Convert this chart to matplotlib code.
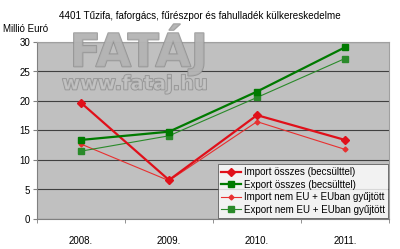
import numpy as np
import matplotlib; matplotlib.use('Agg'); import matplotlib.pyplot as plt
import matplotlib.patheffects as pe

years = ['2008.', '2009.', '2010.', '2011.']
import_total = [19.7, 6.6, 17.6, 13.4]
export_total = [13.4, 14.8, 21.6, 29.1]
import_noneu = [12.7, 6.5, 16.5, 11.8]
export_noneu = [11.5, 14.1, 20.6, 27.2]

plt.rcParams.update({'font.family': 'Liberation Sans', 'font.size': 7})
fig = plt.figure(figsize=(4.0, 2.49), dpi=100)
ax = fig.add_axes([37/400, 1-219/249, 352/400, 177/249])
ax.set_facecolor('#c0c0c0')
x = np.arange(len(years))

ax.plot(x, import_total, '-D', color='#e0101a', lw=1.6, ms=4, zorder=4, label='Import összes (becsülttel)')
ax.plot(x, export_total, '-s', color='#007a00', lw=1.6, ms=5, zorder=4, label='Export összes (becsülttel)')
ax.plot(x, import_noneu, '-D', color='#e83030', lw=0.8, ms=2.5, zorder=3, label='Import nem EU + EUban gyűjtött')
ax.plot(x, export_noneu, '-s', color='#2a8a2a', lw=0.8, ms=4, zorder=3, label='Export nem EU + EUban gyűjtött')

ax.set_xlim(-0.5, 3.5); ax.set_ylim(0, 30)
ax.set_yticks(range(0, 31, 5))
ax.set_xticks(x); ax.set_xticklabels(years)
ax.set_xticks(np.arange(-0.5, 4, 1), minor=True)
ax.tick_params(axis='x', which='major', length=0, pad=12)
ax.tick_params(axis='x', which='minor', length=3, color='#808080')
ax.tick_params(axis='y', length=3, color='#808080', pad=2)
ax.grid(axis='y', color='#404040', lw=0.8)
ax.set_axisbelow(True)
for s in ['top', 'right']:
    ax.spines[s].set_color('#a0a0a0')
for s in ['left', 'bottom']:
    ax.spines[s].set_color('#808080')

# watermark
wm = [pe.Stroke(linewidth=1.2, foreground='#8a8a8a'), pe.Normal()]
fig.text(139/400, 1-50/249, 'FATÁJ', ha='center', va='center', fontsize=33, fontweight='bold',
         family='DejaVu Sans', color='#b4b4b4', alpha=0.8, zorder=5, path_effects=wm)
fig.text(135/400, 1-84/249, 'www.fataj.hu', ha='center', va='center', fontsize=14, fontweight='bold',
         family='DejaVu Sans', color='#c4c4c4', alpha=0.8, zorder=5, path_effects=wm)

fig.text(200/400, 1-16/249, '4401 Tűzifa, faforgács, fűrészpor és fahulladék külkereskedelme',
         ha='center', va='center', fontsize=7.1)
fig.text(3/400, 1-29/249, 'Millió Euró', ha='left', va='center', fontsize=7)

leg = ax.legend(loc='lower right', bbox_to_anchor=(1.0, 0.0), fontsize=7.0, frameon=True, fancybox=False,
                edgecolor='#404040', borderpad=0.35, labelspacing=0.25, handlelength=2.0, handletextpad=0.3,
                borderaxespad=0.1)
leg.get_frame().set_linewidth(0.6)
leg.set_zorder(10)

plt.savefig('out.png', dpi=100)
